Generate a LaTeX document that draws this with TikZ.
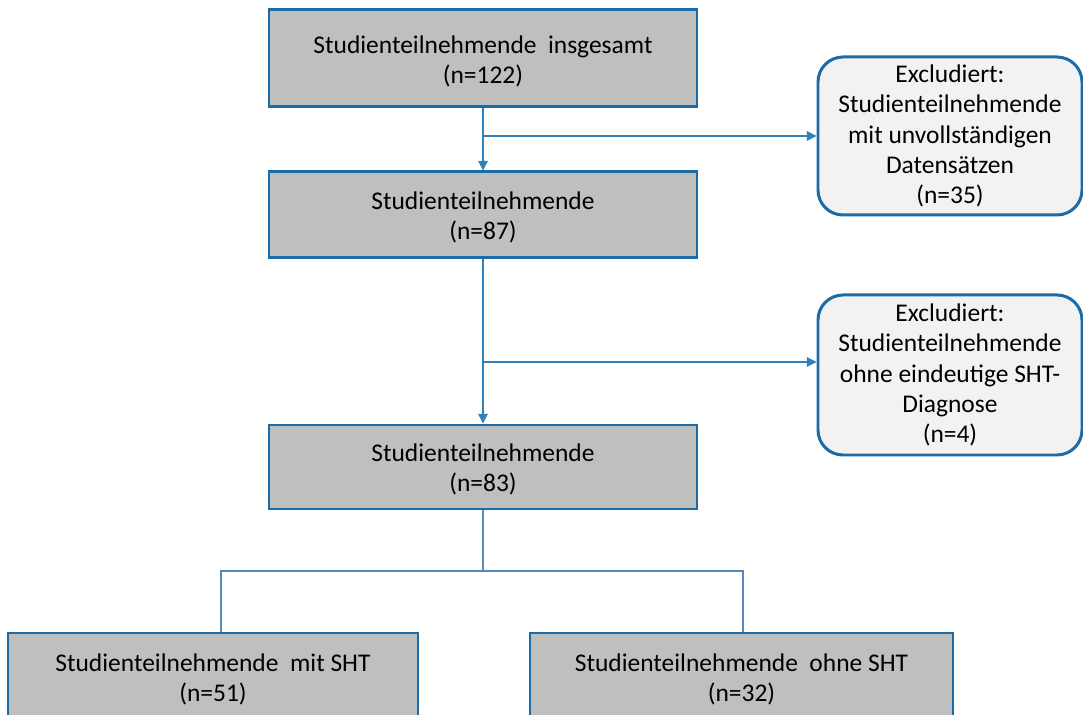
\documentclass[tikz,border=0pt]{standalone}
\usepackage{fontspec}
\setmainfont{Carlito}
\usetikzlibrary{arrows.meta}
\definecolor{rahmen}{HTML}{1A6BA6}
\definecolor{pfeil}{HTML}{2F80BC}
\definecolor{ast}{HTML}{5A86BE}
\definecolor{grau}{HTML}{BFBFBF}
\definecolor{hell}{HTML}{F2F2F2}
\tikzset{
  kasten/.style={draw=rahmen, line width=1.7pt, fill=grau, align=center,
    font=\fontsize{14.5}{17.2}\selectfont, inner sep=0pt},
  ausschluss/.style={draw=rahmen, line width=1.7pt, fill=hell, rounded corners=0.5cm,
    align=center, font=\fontsize{14.5}{17.2}\selectfont, inner sep=0pt},
  pfeil/.style={draw=pfeil, line width=0.6pt, -{Triangle[width=5.5pt,length=5.5pt]}},
  ast/.style={draw=ast, line width=0.8pt}
}
\begin{document}
\begin{tikzpicture}[x=0.02cm, y=-0.02cm]
  \clip (0,0) rectangle (1083,715);
  \fill[white] (0,0) rectangle (1083,715);
  \node[kasten, minimum width=428*0.02cm, minimum height=97*0.02cm] (gesamt) at (483,58.5)
       {\\[-4pt]Studienteilnehmende \ insgesamt\\(n=122)};
  \node[kasten, minimum width=428*0.02cm, minimum height=86*0.02cm] (n87) at (483,215)
       {\\[-4pt]Studienteilnehmende\\(n=87)};
  \node[kasten, minimum width=428*0.02cm, minimum height=84*0.02cm] (n83) at (483,467)
       {\\[-4pt]Studienteilnehmende\\(n=83)};
  \node[ausschluss, minimum width=264*0.02cm, minimum height=158*0.02cm] (aus1) at (950,136)
       {Excludiert:\\Studienteilnehmende\\mit unvollständigen\\Datensätzen\\(n=35)};
  \node[ausschluss, minimum width=264*0.02cm, minimum height=160*0.02cm] (aus2) at (950,375)
       {Excludiert:\\Studienteilnehmende\\ohne eindeutige SHT-\\Diagnose\\(n=4)};
  \node[kasten, minimum width=410*0.02cm, minimum height=88*0.02cm] (mit) at (213,677)
       {\\[-4pt]Studienteilnehmende \ mit SHT\\(n=51)};
  \node[kasten, minimum width=423*0.02cm, minimum height=88*0.02cm] (ohne) at (741.5,677)
       {\\[-4pt]Studienteilnehmende \ ohne SHT\\(n=32)};
  % Ausschluesse
  \coordinate (abzw1) at (483,136);
  \coordinate (abzw2) at (483,362);
  \draw[pfeil] (gesamt.south) -- (n87.north);
  \draw[pfeil] (abzw1) -- (aus1.west |- abzw1);
  \draw[pfeil] (n87.south) -- (n83.north);
  \draw[pfeil] (abzw2) -- (aus2.west |- abzw2);
  % Aufteilung
  \coordinate (knoten) at (483,571);
  \coordinate (links) at (221,571);
  \coordinate (rechts) at (743,571);
  \draw[ast] (n83.south) -- (knoten);
  \draw[ast] (mit.north -| links) -- (links) -- (rechts) -- (ohne.north -| rechts);
\end{tikzpicture}
\end{document}
